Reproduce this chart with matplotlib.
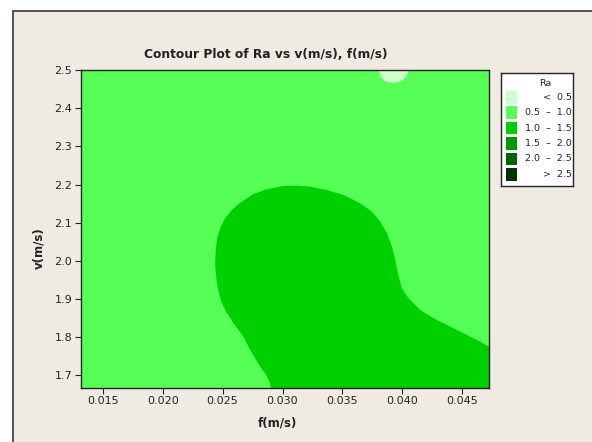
import matplotlib
matplotlib.use("Agg")
import matplotlib.pyplot as plt
from matplotlib.patches import Rectangle

# Ra levels and Minitab-style greens
level_labels = ["<  0.5", "0.5  \u2013  1.0", "1.0  \u2013  1.5",
                "1.5  \u2013  2.0", "2.0  \u2013  2.5", ">  2.5"]
level_colors = ["#ccffcc", "#55ff55", "#00d000", "#009900", "#006600", "#003300"]

# region Ra 1.0 - 1.5 (boundary)
blob_f = [0.02903, 0.02891, 0.02864, 0.02813, 0.0273, 0.02674, 0.02591, 0.02521,
          0.02485, 0.02457, 0.02443, 0.02438, 0.02443, 0.02457, 0.02485, 0.02521,
          0.02577, 0.02647, 0.02758, 0.02869, 0.03008, 0.03120, 0.03231, 0.03370,
          0.03509, 0.03648, 0.03746, 0.03815, 0.03871, 0.03913, 0.03941, 0.03963,
          0.03996, 0.04052, 0.04149, 0.04261, 0.04400, 0.04539, 0.04650, 0.04711,
          0.0473, 0.0473]
blob_v = [1.666, 1.6827, 1.7003, 1.722, 1.7659, 1.8008, 1.8358, 1.8708,
          1.8971, 1.9321, 1.9671, 1.9933, 2.0283, 2.0633, 2.0896, 2.1114,
          2.1333, 2.1526, 2.1753, 2.1876, 2.1963, 2.1972, 2.1946, 2.1858,
          2.1727, 2.1508, 2.1289, 2.1027, 2.0721, 2.0371, 2.0021, 1.9671,
          1.9277, 1.9014, 1.8708, 1.8489, 1.8271, 1.8052, 1.7877, 1.7763,
          1.774, 1.666]

# region Ra < 0.5 at the top
cap_f = [0.03803, 0.03811, 0.03828, 0.03853, 0.03886, 0.03924,
         0.03962, 0.03995, 0.04023, 0.04041, 0.04049]
cap_v = [2.5, 2.489, 2.4798, 2.4724, 2.4685, 2.4675,
         2.4685, 2.4724, 2.4798, 2.489, 2.5]

f_ticks = [0.015, 0.020, 0.025, 0.030, 0.035, 0.040, 0.045]
v_ticks = [1.7, 1.8, 1.9, 2.0, 2.1, 2.2, 2.3, 2.4, 2.5]

bg = "#efebe2"
fig = plt.figure(figsize=(5.92, 4.42), dpi=100)
fig.patch.set_facecolor("white")
frame = Rectangle((13 / 592, -0.1), 1.1, 1 - 10.5 / 442 + 0.1,
                  transform=fig.transFigure, facecolor=bg,
                  edgecolor="#444444", linewidth=1.3, zorder=-10)
fig.patches.append(frame)

ax = fig.add_axes([80.7 / 592, 54 / 442, 408.3 / 592, 317.7 / 442])
ax.set_facecolor(level_colors[1])
ax.fill(blob_f, blob_v, color=level_colors[2], lw=0)
ax.fill(cap_f, cap_v, color=level_colors[0], lw=0)
ax.set_xlim(0.01316, 0.04723)
ax.set_ylim(1.666, 2.5)
ax.set_xticks(f_ticks)
ax.set_xticklabels(["%.3f" % t for t in f_ticks])
ax.set_yticks(v_ticks)
ax.set_yticklabels(["%.1f" % t for t in v_ticks])
ax.tick_params(direction="out", length=4, width=0.8, color="#222222",
               labelsize=8, labelcolor="#222222", pad=2)
for s in ax.spines.values():
    s.set_linewidth(1.0)
    s.set_color("#222222")

ax.set_xlabel("f(m/s)", fontsize=8.5, fontweight="bold", color="#222222")
ax.xaxis.set_label_coords(0.483, -0.09)
ax.xaxis.label.set_va("top")
ax.set_ylabel("v(m/s)", fontsize=8.5, fontweight="bold", color="#222222")
ax.yaxis.set_label_coords(-0.0874, 0.44)

fig.text(266 / 592, 1 - 55 / 442, "Contour Plot of Ra vs v(m/s), f(m/s)",
         ha="center", va="center", fontsize=8.8, fontweight="bold", color="#222222")

# legend box, laid out in pixel units
lg = fig.add_axes([501 / 592, (442 - 186) / 442, 72.3 / 592, 113.3 / 442])
lg.set_xlim(501, 573.3)
lg.set_ylim(186, 72.7)
lg.set_xticks([])
lg.set_yticks([])
lg.set_facecolor("white")
for s in lg.spines.values():
    s.set_linewidth(1.0)
    s.set_color("#222222")
lg.text(545.7, 84, "Ra", ha="center", va="center", fontsize=6.8, color="#222222")
for i, (lab, col) in enumerate(zip(level_labels, level_colors)):
    yc = 97.3 + i * 15.4
    lg.add_patch(Rectangle((505.7, yc - 6.3), 11.6, 12.6, facecolor=col, lw=0))
    lg.text(571.5, yc, lab, ha="right", va="center", fontsize=6.8, color="#222222")

fig.savefig("out.png", dpi=100, facecolor=fig.get_facecolor())
